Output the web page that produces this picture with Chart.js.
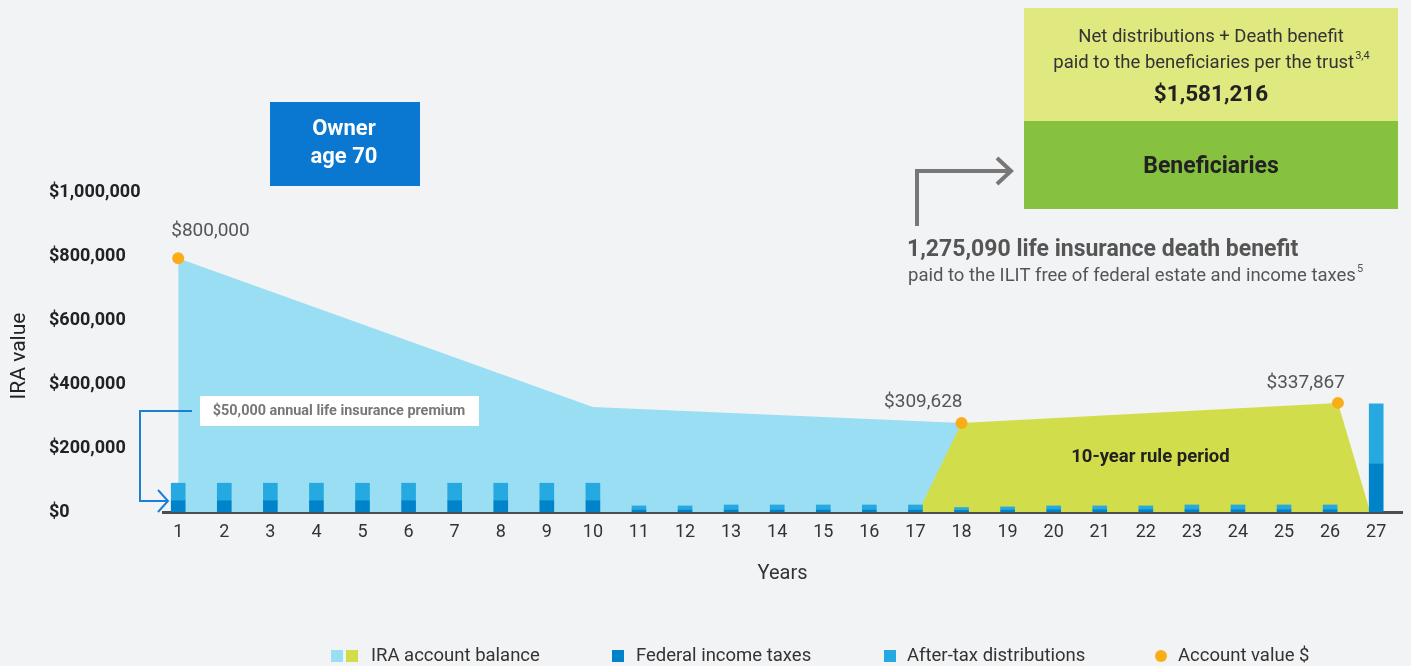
<!DOCTYPE html>
<html>
<head>
<meta charset="utf-8">
<script src="https://cdn.jsdelivr.net/npm/chart.js@4.4.0/dist/chart.umd.min.js"></script>
<style>
  html, body { margin: 0; padding: 0; background: #f2f3f5; }
  #wrap { position: relative; width: 1411px; height: 666px; }
</style>
</head>
<body>
<div id="wrap"><canvas id="chart"></canvas></div>
<script>
/* global Chart */
(function () {
  "use strict";

  // ---- data ----
  const years = [1, 2, 3, 4, 5, 6, 7, 8, 9, 10, 11, 12, 13, 14, 15, 16, 17, 18, 19, 20, 21, 22, 23, 24, 25, 26, 27];
  const federalTaxes = [
    35000, 35000, 35000, 35000, 35000, 35000, 35000, 35000, 35000, 35000,
    6000, 6000, 6000, 6000, 6000, 6000, 6000,
    5000, 6000, 7000, 7000, 7000, 7000, 7000, 7000, 7000,
    150000
  ];
  const afterTaxDist = [
    55000, 55000, 55000, 55000, 55000, 55000, 55000, 55000, 55000, 55000,
    13000, 13000, 16000, 16000, 16000, 16000, 16000,
    9000, 10000, 12000, 12000, 12000, 15000, 15000, 15000, 15000,
    188000
  ];
  const balanceYears = [1, 10, 18];
  const balanceValues = [793000, 328000, 278000];
  const ruleYears = [17.06, 18, 26.17, 26.87];
  const ruleValues = [0, 278000, 341000, 0];
  const dotYears = [1, 18, 26.17];
  const dotValues = [793000, 278000, 341000];
  const dotLabels = ["$800,000", "$309,628", "$337,867"];
  const yTicks = [0, 200000, 400000, 600000, 800000, 1000000];

  const FONT = 'Roboto, "Noto Sans", sans-serif';
  const C_BLUE_AREA = "#9adef4";
  const C_GREEN_AREA = "#d2dd4b";
  const C_TAX = "#0083c9";
  const C_AFTER = "#26a9e1";
  const C_DOT = "#fbad18";

  function pts(xs, ys) {
    return xs.map(function (x, i) { return { x: x, y: ys[i] }; });
  }

  function text(ctx, str, x, y, size, weight, color, align) {
    ctx.font = weight + " " + size + "px " + FONT;
    ctx.fillStyle = color;
    ctx.textAlign = align || "center";
    ctx.textBaseline = "middle";
    ctx.fillText(str, x, y);
  }

  function textSup(ctx, str, sup, x, y, size, weight, color, align) {
    const supSize = Math.round(size * 0.6);
    ctx.font = weight + " " + size + "px " + FONT;
    const w1 = ctx.measureText(str).width;
    ctx.font = weight + " " + supSize + "px " + FONT;
    const w2 = ctx.measureText(sup).width;
    const x0 = align === "left" ? x : x - (w1 + w2) / 2;
    text(ctx, str, x0, y, size, weight, color, "left");
    text(ctx, sup, x0 + w1 + 1, y - size * 0.35, supSize, weight, color, "left");
  }

  function poly(ctx, p, color, width) {
    ctx.save();
    ctx.strokeStyle = color;
    ctx.lineWidth = width;
    ctx.lineJoin = "miter";
    ctx.beginPath();
    ctx.moveTo(p[0][0], p[0][1]);
    for (let i = 1; i < p.length; i++) ctx.lineTo(p[i][0], p[i][1]);
    ctx.stroke();
    ctx.restore();
  }

  const decorations = {
    id: "decorations",
    afterDatasetsDraw: function (chart) {
      const ctx = chart.ctx;
      const xs = chart.scales.x;
      const ys = chart.scales.y;

      // value labels over the orange dots
      const meta = chart.getDatasetMeta(4);
      const offs = [[-7, -27, "left"], [1, -21, "right"], [7, -20, "right"]];
      meta.data.forEach(function (pt, i) {
        text(ctx, dotLabels[i], pt.x + offs[i][0], pt.y + offs[i][1], 19, "400", "#555", offs[i][2]);
      });

      text(ctx, "10-year rule period", xs.getPixelForValue(22.1), ys.getPixelForValue(172000), 18.5, "700", "#222");
    },
    afterDraw: function (chart) {
      const ctx = chart.ctx;

      // y axis title
      ctx.save();
      ctx.translate(20, 356);
      ctx.rotate(-Math.PI / 2);
      text(ctx, "IRA value", 0, 0, 21, "400", "#222");
      ctx.restore();

      // owner box
      ctx.fillStyle = "#0a78d1";
      ctx.fillRect(270, 102, 150, 84);
      text(ctx, "Owner", 344, 129, 22, "700", "#fff");
      text(ctx, "age 70", 344, 157, 22, "700", "#fff");

      // premium callout
      ctx.fillStyle = "#ffffff";
      ctx.fillRect(200, 396, 279, 30);
      text(ctx, "$50,000 annual life insurance premium", 339, 411, 14.4, "700", "#777");
      poly(ctx, [[192, 411], [140, 411], [140, 501], [168, 501]], "#1a80d6", 2);
      poly(ctx, [[158, 490], [168, 501], [158, 512]], "#1a80d6", 2);

      // beneficiaries boxes
      ctx.fillStyle = "#e0e880";
      ctx.fillRect(1024, 8, 374, 113);
      ctx.fillStyle = "#86c13f";
      ctx.fillRect(1024, 121, 374, 88);
      text(ctx, "Net distributions + Death benefit", 1211, 37, 18.5, "400", "#333");
      textSup(ctx, "paid to the beneficiaries per the trust", "3,4", 1211, 63, 18.5, "400", "#333", "center");
      text(ctx, "$1,581,216", 1211, 95, 22.5, "700", "#222");
      text(ctx, "Beneficiaries", 1211, 167, 23, "700", "#222");

      // death benefit arrow + text
      poly(ctx, [[917, 226], [917, 171], [1010, 171]], "#777", 4);
      poly(ctx, [[997, 158], [1011, 171], [997, 184]], "#777", 4);
      text(ctx, "1,275,090 life insurance death benefit", 907, 250, 23, "700", "#555", "left");
      textSup(ctx, "paid to the ILIT free of federal estate and income taxes", "5", 908, 276, 18.5, "400", "#555", "left");

      // legend
      const ly = 656;
      ctx.fillStyle = C_BLUE_AREA; ctx.fillRect(331, ly - 6, 12, 12);
      ctx.fillStyle = C_GREEN_AREA; ctx.fillRect(346, ly - 6, 12, 12);
      text(ctx, "IRA account balance", 371, ly, 18.5, "400", "#333", "left");
      ctx.fillStyle = C_TAX; ctx.fillRect(612, ly - 6, 12, 12);
      text(ctx, "Federal income taxes", 636, ly, 18.5, "400", "#333", "left");
      ctx.fillStyle = C_AFTER; ctx.fillRect(884, ly - 6, 12, 12);
      text(ctx, "After-tax distributions", 907, ly, 18.5, "400", "#333", "left");
      ctx.fillStyle = C_DOT;
      ctx.beginPath(); ctx.arc(1161, ly, 6, 0, Math.PI * 2); ctx.fill();
      text(ctx, "Account value $", 1178, ly, 18.5, "400", "#333", "left");
    }
  };

  new Chart(document.getElementById("chart").getContext("2d"), {
    type: "bar",
    data: {
      datasets: [
        {
          type: "bar",
          label: "Federal income taxes",
          data: pts(years, federalTaxes),
          backgroundColor: C_TAX,
          stack: "bars",
          barThickness: 14,
          order: 1
        },
        {
          type: "bar",
          label: "After-tax distributions",
          data: pts(years, afterTaxDist),
          backgroundColor: C_AFTER,
          stack: "bars",
          barThickness: 14,
          order: 1
        },
        {
          type: "line",
          label: "IRA account balance",
          data: pts(balanceYears, balanceValues),
          borderWidth: 0,
          backgroundColor: C_BLUE_AREA,
          fill: "origin",
          pointRadius: 0,
          tension: 0,
          order: 4
        },
        {
          type: "line",
          label: "10-year rule period",
          data: pts(ruleYears, ruleValues),
          borderWidth: 0,
          backgroundColor: C_GREEN_AREA,
          fill: "origin",
          pointRadius: 0,
          tension: 0,
          order: 3
        },
        {
          type: "line",
          label: "Account value $",
          data: pts(dotYears, dotValues),
          showLine: false,
          pointRadius: 6,
          pointBackgroundColor: C_DOT,
          pointBorderWidth: 0,
          order: 0
        }
      ]
    },
    options: {
      responsive: true,
      maintainAspectRatio: false,
      animation: false,
      layout: { padding: { left: 49, right: 9, top: 192, bottom: 74 } },
      plugins: { legend: { display: false }, tooltip: { enabled: false } },
      scales: {
        x: {
          type: "linear",
          offset: false,
          min: 0.67,
          max: 27.56,
          grid: { display: false, drawTicks: false, offset: false },
          border: { display: true, color: "#4d4d4d", width: 3 },
          afterBuildTicks: function (s) {
            s.ticks = years.map(function (v) { return { value: v }; });
          },
          afterFit: function (s) { s.height = 80; },
          ticks: {
            autoSkip: false,
            maxRotation: 0,
            padding: 10,
            color: "#333",
            font: { family: FONT, size: 18 }
          },
          title: {
            display: true,
            text: "Years",
            color: "#333",
            font: { family: FONT, size: 20 },
            padding: { top: 4, bottom: 6 }
          }
        },
        y: {
          min: 0,
          max: 1000000,
          grid: { display: false, drawTicks: false },
          border: { display: false },
          afterBuildTicks: function (s) {
            s.ticks = yTicks.map(function (v) { return { value: v }; });
          },
          afterFit: function (s) { s.width = 114; },
          ticks: {
            crossAlign: "far",
            color: "#222",
            font: { family: FONT, size: 18, weight: "700" },
            callback: function (v) { return "$" + v.toLocaleString("en-US"); }
          }
        }
      }
    },
    plugins: [decorations]
  });
})();
</script>
</body>
</html>
